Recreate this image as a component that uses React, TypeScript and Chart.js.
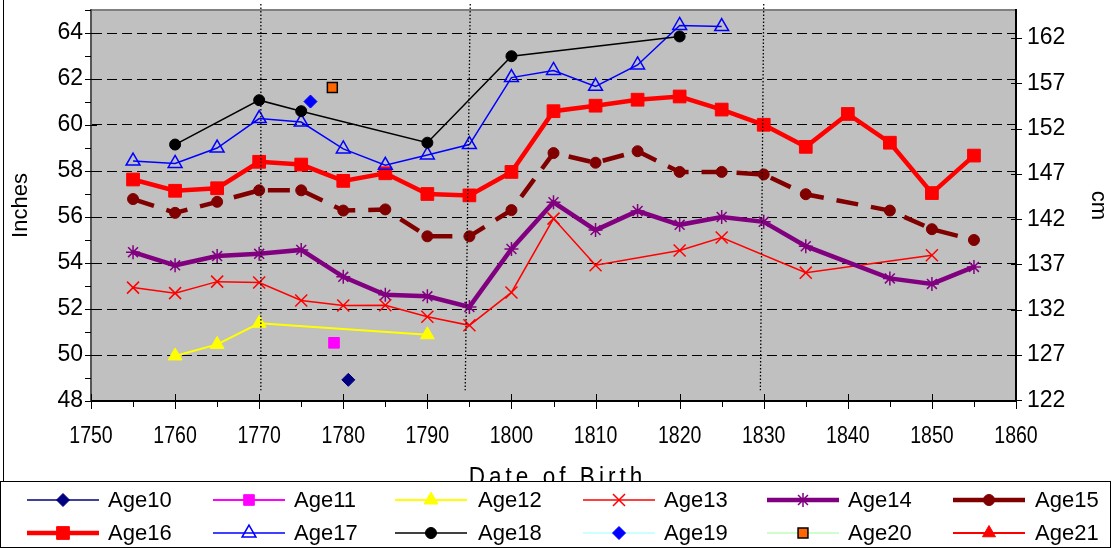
import React, { useEffect, useRef } from 'react';
import { Chart, registerables } from 'chart.js';
import { drawPoint } from 'chart.js/helpers';

Chart.register(...registerables);

// ---------- data ----------
const xTickYears = [1750, 1760, 1770, 1780, 1790, 1800, 1810, 1820, 1830, 1840, 1850, 1860];
const yTicksInches = [48, 50, 52, 54, 56, 58, 60, 62, 64];
const yTicksCm = [122, 127, 132, 137, 142, 147, 152, 157, 162];

const age10X = [1780.6];
const age10Y = [48.92];
const age11X = [1778.9];
const age11Y = [50.53];
const age12X = [1760, 1765, 1770, 1790];
const age12Y = [49.96, 50.46, 51.38, 50.88];
const age13X = [1755, 1760, 1765, 1770, 1775, 1780, 1785, 1790, 1795, 1800, 1805, 1810, 1820, 1825, 1835, 1850];
const age13Y = [52.93, 52.69, 53.19, 53.15, 52.37, 52.15, 52.16, 51.66, 51.29, 52.72, 55.93, 53.9, 54.54, 55.11, 53.58, 54.34];
const age14X = [1755, 1760, 1765, 1770, 1775, 1780, 1785, 1790, 1795, 1800, 1805, 1810, 1815, 1820, 1825, 1830, 1835, 1845, 1850, 1855];
const age14Y = [54.47, 53.9, 54.3, 54.4, 54.57, 53.4, 52.62, 52.55, 52.09, 54.61, 56.64, 55.43, 56.26, 55.66, 56.0, 55.79, 54.73, 53.33, 53.09, 53.83];
const age15X = [1755, 1760, 1765, 1770, 1775, 1780, 1785, 1790, 1795, 1800, 1805, 1810, 1815, 1820, 1825, 1830, 1835, 1845, 1850, 1855];
const age15Y = [56.78, 56.18, 56.66, 57.16, 57.16, 56.28, 56.33, 55.16, 55.16, 56.3, 58.78, 58.36, 58.86, 57.96, 57.96, 57.85, 56.99, 56.28, 55.47, 55.0];
const age16X = [1755, 1760, 1765, 1770, 1775, 1780, 1785, 1790, 1795, 1800, 1805, 1810, 1815, 1820, 1825, 1830, 1835, 1840, 1845, 1850, 1855];
const age16Y = [57.63, 57.14, 57.25, 58.4, 58.28, 57.57, 57.9, 57.0, 56.94, 57.96, 60.6, 60.84, 61.1, 61.24, 60.67, 60.01, 59.05, 60.48, 59.23, 57.04, 58.67];
const age17X = [1755, 1760, 1765, 1770, 1775, 1780, 1785, 1790, 1795, 1800, 1805, 1810, 1815, 1820, 1825];
const age17Y = [58.43, 58.33, 59.0, 60.28, 60.13, 58.96, 58.25, 58.7, 59.15, 62.06, 62.37, 61.68, 62.61, 64.33, 64.28];
const age18X = [1760, 1770, 1775, 1790, 1800, 1820];
const age18Y = [59.15, 61.08, 60.6, 59.23, 62.99, 63.85];
const age19X = [1776.1];
const age19Y = [61.02];
const age20X = [1778.7];
const age20Y = [61.63];
const age21X: number[] = [];
const age21Y: number[] = [];

// hand-drawn dotted marker lines (years at top / bottom, inch extent)
const dottedTopYears = [1770.2, 1795.1, 1830.0];
const dottedBottomYears = [1770.2, 1794.5, 1829.6];
const dottedTopInches = 65.26;
const dottedBottomInches = 48.47;

const IN_TO_CM = 2.54;
const Y_MIN = 48;
const Y_MAX = 65;

const pts = (xs: number[], ys: number[]) => xs.map((x, i) => ({ x, y: ys[i] }));

const FONT = '"Liberation Sans", Arial, sans-serif';

function makeDatasets() {
  const base = (label: string, xs: number[], ys: number[], line: string, width: number, style: string, radius: number, fill: string, stroke: string, pbw: number, extra: any = {}) => ({
    label,
    data: pts(xs, ys),
    borderColor: line,
    backgroundColor: fill,
    borderWidth: width,
    pointStyle: style,
    pointRadius: radius,
    pointHoverRadius: radius,
    pointBackgroundColor: fill,
    pointBorderColor: stroke,
    pointBorderWidth: pbw,
    tension: 0,
    fill: false,
    ...extra,
  });
  const list = [
    base('Age10', age10X, age10Y, '#000080', 1.5, 'rectRot', 6.5, '#000080', '#000080', 1),
    base('Age11', age11X, age11Y, '#ff00ff', 2, 'rect', 7.5, '#ff00ff', '#ff00ff', 1),
    base('Age12', age12X, age12Y, '#ffff00', 2, 'triangle', 8, '#ffff00', '#ffff00', 1),
    base('Age13', age13X, age13Y, '#ff0000', 1.5, 'crossRot', 8.5, '#ff0000', '#ff0000', 1.5),
    base('Age14', age14X, age14Y, '#800080', 4.5, 'star', 7, '#800080', '#800080', 1.5),
    base('Age15', age15X, age15Y, '#800000', 4.5, 'circle', 5.5, '#800000', '#800000', 1, { borderDash: [22, 13] }),
    base('Age16', age16X, age16Y, '#ff0000', 4.5, 'rect', 9, '#ff0000', '#ff0000', 1),
    base('Age17', age17X, age17Y, '#0000ff', 1.5, 'triangle', 8, 'rgba(0,0,0,0)', '#0000ff', 1.5),
    base('Age18', age18X, age18Y, '#000000', 1.5, 'circle', 5.5, '#000000', '#000000', 1),
    base('Age19', age19X, age19Y, '#ccffff', 2, 'rectRot', 6.5, '#0000ff', '#0000ff', 1),
    base('Age20', age20X, age20Y, '#ccffcc', 2, 'rect', 7, '#ff6600', '#000000', 1.5),
    base('Age21', age21X, age21Y, '#ff0000', 2, 'triangle', 7.5, '#ff0000', '#ff0000', 1),
  ];
  return list.map((d, i) => ({ ...d, order: -i }));
}

const backgroundPlugin = {
  id: 'bgPlot',
  beforeDraw(chart: any) {
    const { ctx, chartArea: a } = chart;
    ctx.save();
    ctx.fillStyle = '#ffffff';
    ctx.fillRect(0, 0, chart.width, chart.height);
    ctx.fillStyle = '#c0c0c0';
    ctx.fillRect(a.left, a.top, a.right - a.left, a.bottom - a.top);
    ctx.strokeStyle = '#808080';
    ctx.lineWidth = 2;
    ctx.beginPath();
    ctx.moveTo(a.left, a.top);
    ctx.lineTo(a.right, a.top);
    ctx.stroke();
    ctx.strokeStyle = '#000';
    ctx.lineWidth = 1;
    ctx.beginPath();
    ctx.moveTo(3.5, 0);
    ctx.lineTo(3.5, 482);
    ctx.stroke();
    ctx.restore();
  },
};

const ticksPlugin = {
  id: 'tickMarks',
  afterDatasetsDraw(chart: any) {
    const { ctx, chartArea: a } = chart;
    const { x, y, y2 } = chart.scales;
    ctx.save();
    ctx.strokeStyle = '#000';
    ctx.lineWidth = 1;
    ctx.beginPath();
    for (let v = Y_MIN; v <= Y_MAX; v += 1) {
      const py = Math.round(y.getPixelForValue(v)) + 0.5;
      const major = v % 2 === 0;
      ctx.moveTo(a.left - 6, py);
      ctx.lineTo(major ? a.left + 6 : a.left, py);
    }
    for (let yr = 1750; yr <= 1860; yr += 5) {
      const px = Math.round(x.getPixelForValue(yr)) + 0.5;
      const major = yr % 10 === 0;
      ctx.moveTo(px, major ? a.bottom - 7 : a.bottom);
      ctx.lineTo(px, major ? a.bottom + 8 : a.bottom + 6);
    }
    yTicksCm.forEach((cm) => {
      const py = Math.round(y2.getPixelForValue(cm)) + 0.5;
      ctx.moveTo(a.right - 5, py);
      ctx.lineTo(a.right + 6, py);
    });
    ctx.stroke();

    // dotted marker lines
    ctx.setLineDash([1.5, 2]);
    ctx.lineWidth = 1.3;
    ctx.beginPath();
    dottedTopYears.forEach((t, i) => {
      ctx.moveTo(x.getPixelForValue(t), y.getPixelForValue(dottedTopInches));
      ctx.lineTo(x.getPixelForValue(dottedBottomYears[i]), y.getPixelForValue(dottedBottomInches));
    });
    ctx.stroke();
    ctx.restore();
  },
};

const legendLineStart = [27, 213, 395, 583, 767, 953];
const legendTextX = [108, 294, 478, 664, 848, 1035];
const legendRowY = [500, 533];
const LEGEND_LINE = 72;

const legendPlugin = {
  id: 'customLegend',
  afterDraw(chart: any) {
    const { ctx, chartArea: a } = chart;
    const xs = chart.scales.x;
    ctx.save();
    // x tick labels, horizontally condensed like the original
    ctx.fillStyle = '#000';
    ctx.font = `23px ${FONT}`;
    ctx.textAlign = 'center';
    ctx.textBaseline = 'middle';
    xs.ticks.forEach((t: any) => {
      const px = xs.getPixelForValue(t.value);
      ctx.save();
      ctx.translate(px, 437);
      ctx.scale(0.85, 1);
      ctx.fillText(String(t.value), 0, 0);
      ctx.restore();
    });

    // x axis title (cut off by the legend box)
    ctx.font = `25px ${FONT}`;
    (ctx as any).letterSpacing = '4.5px';
    ctx.textAlign = 'center';
    ctx.textBaseline = 'alphabetic';
    ctx.save();
    ctx.translate((a.left + a.right) / 2 + 4, 485);
    ctx.scale(0.9, 1);
    ctx.fillText('Date of Birth', 0, 0);
    ctx.restore();
    (ctx as any).letterSpacing = '0px';

    // legend box
    ctx.fillStyle = '#ffffff';
    ctx.fillRect(0, 481, chart.width, chart.height - 481);
    ctx.strokeStyle = '#000';
    ctx.lineWidth = 1;
    ctx.strokeRect(0.5, 481.5, chart.width - 1, chart.height - 482);

    chart.data.datasets.forEach((ds: any, i: number) => {
      const col = i % 6;
      const row = Math.floor(i / 6);
      const x0 = legendLineStart[col];
      const cy = legendRowY[row];
      ctx.strokeStyle = ds.borderColor;
      ctx.lineWidth = ds.borderWidth;
      ctx.setLineDash([]);
      ctx.beginPath();
      ctx.moveTo(x0, cy);
      ctx.lineTo(x0 + LEGEND_LINE, cy);
      ctx.stroke();
      ctx.fillStyle = ds.pointBackgroundColor;
      ctx.strokeStyle = ds.pointBorderColor;
      ctx.lineWidth = ds.pointBorderWidth;
      drawPoint(ctx, { pointStyle: ds.pointStyle, radius: ds.pointRadius, borderWidth: ds.pointBorderWidth, rotation: 0 } as any, x0 + LEGEND_LINE / 2, cy);
      ctx.fillStyle = '#000';
      ctx.font = `22px ${FONT}`;
      ctx.textAlign = 'left';
      ctx.textBaseline = 'middle';
      ctx.fillText(ds.label, legendTextX[col], cy + 1);
    });
    ctx.restore();
  },
};

const noPad = (s: any) => {
  s.paddingTop = 0;
  s.paddingBottom = 0;
};

export default function App() {
  const ref = useRef<HTMLCanvasElement | null>(null);
  useEffect(() => {
    if (!ref.current) return;
    Chart.defaults.color = '#000';
    const chart = new Chart(ref.current, {
      type: 'line',
      data: { datasets: makeDatasets() as any },
      options: {
        responsive: false,
        animation: false,
        devicePixelRatio: 1,
        layout: { padding: { top: 6, bottom: 67, left: 0, right: 0 } },
        plugins: { legend: { display: false }, tooltip: { enabled: false }, title: { display: false } },
        scales: {
          x: {
            type: 'linear',
            position: 'bottom',
            min: 1750,
            max: 1860,
            afterBuildTicks: (s: any) => { s.ticks = xTickYears.map((v) => ({ value: v })); },
            afterFit: (s: any) => { s.height = 80; s.paddingLeft = 0; s.paddingRight = 0; },
            grid: { display: false, drawTicks: false },
            border: { display: true, color: '#000', width: 2 },
            ticks: {
              padding: 20,
              maxRotation: 0,
              autoSkip: false,
              color: 'rgba(0,0,0,0)',
              font: { family: FONT, size: 23 },
              callback: (v: any) => String(v),
            },
          },
          y: {
            type: 'linear',
            position: 'left',
            min: Y_MIN,
            max: Y_MAX,
            afterBuildTicks: (s: any) => { s.ticks = yTicksInches.map((v) => ({ value: v })); },
            afterFit: (s: any) => { s.width = 91; noPad(s); },
            grid: { color: '#000', lineWidth: 1, drawTicks: false },
            border: { display: true, color: '#555', width: 2, dash: [10, 5] },
            ticks: { padding: 8, color: '#000', font: { family: FONT, size: 23, lineHeight: 0.4 }, callback: (v: any) => String(v) },
            title: { display: true, text: 'Inches', color: '#000', font: { family: FONT, size: 22 }, padding: { top: 8, bottom: 0 } },
          },
          y2: {
            type: 'linear',
            position: 'right',
            min: Y_MIN * IN_TO_CM,
            max: Y_MAX * IN_TO_CM,
            afterBuildTicks: (s: any) => { s.ticks = yTicksCm.map((v) => ({ value: v })); },
            afterFit: (s: any) => { s.width = 95; noPad(s); },
            grid: { drawOnChartArea: false, drawTicks: false },
            border: { display: true, color: '#000', width: 2 },
            ticks: { padding: 11, color: '#000', font: { family: FONT, size: 23, lineHeight: 0.4 }, callback: (v: any) => String(v) },
            title: { display: true, text: 'cm', color: '#000', font: { family: FONT, size: 22 }, padding: { top: 0, bottom: 0 } },
          },
        },
      },
      plugins: [backgroundPlugin, ticksPlugin, legendPlugin],
    } as any);
    return () => chart.destroy();
  }, []);
  return (
    <div style={{ position: 'fixed', left: 0, top: 0, width: 1111, height: 548 }}>
      <canvas ref={ref} width={1111} height={548} style={{ width: 1111, height: 548, display: 'block' }} />
    </div>
  );
}
